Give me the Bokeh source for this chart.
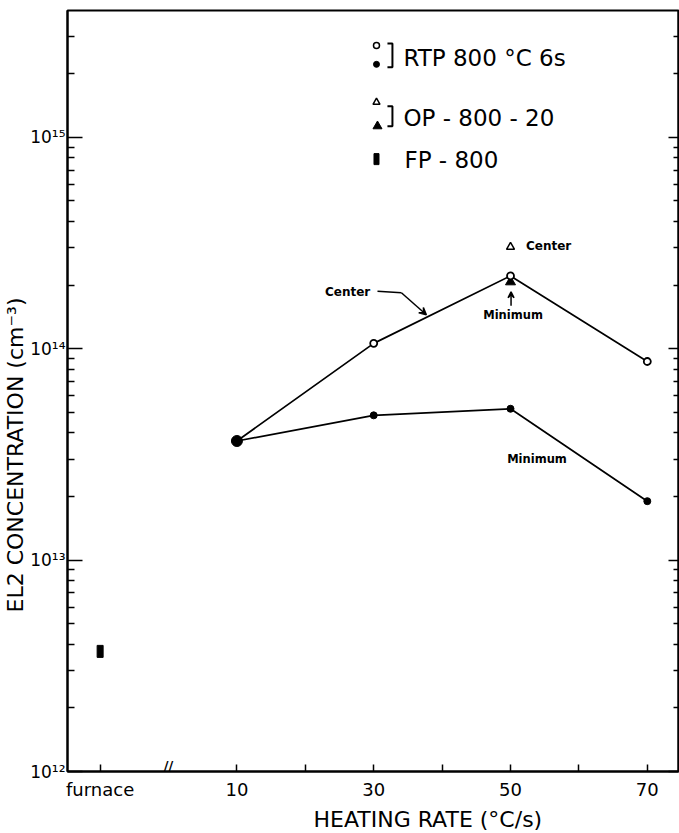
import math

from bokeh.plotting import figure
from bokeh.models import Range1d, FixedTicker, LogAxis, Label, Arrow, VeeHead, Title
from bokeh.embed import file_html
from bokeh.resources import INLINE

# ---- data -------------------------------------------------------------
rates = [10, 30, 50, 70]                       # heating rate, degC/s
rtp_center = [3.66e13, 1.06e14, 2.21e14, 8.7e13]
rtp_minimum = [3.66e13, 4.84e13, 5.2e13, 1.9e13]

op_rate = [50]
op_center = [3.03e14]
op_minimum = [2.07e14]

fp_pos = [-10]                                  # "furnace" slot on the rate axis
fp_value = [3.7e12]

x_ticks = [-10, 10, 20, 30, 40, 50, 60, 70]
x_tick_labels = {-10: "furnace", 10: "10", 20: "", 30: "30", 40: "", 50: "50", 60: "", 70: "70"}
y_decades = [1e12, 1e13, 1e14, 1e15]
y_tick_labels = {1e12: "10¹²", 1e13: "10¹³", 1e14: "10¹⁴", 1e15: "10¹⁵"}

# ---- layout -----------------------------------------------------------
FONT = "DejaVu Sans"
W, H = 679, 833
LEFT, RIGHT, TOP, BOTTOM = 65, 678, 10, 773      # frame edges in canvas pixels
X0, X1 = -14.77, 74.56
YLOG0, YLOG1 = 12.0, 15.6


def dx(px):
    """canvas pixel column -> x data value (for decorations)"""
    return X0 + (px - LEFT) * (X1 - X0) / (RIGHT - LEFT)


def dy(py):
    """canvas pixel row -> y data value on the log axis (for decorations)"""
    return 10 ** (YLOG1 - (py - TOP) * (YLOG1 - YLOG0) / (BOTTOM - TOP))


p = figure(width=W, height=H, y_axis_type="log",
           x_range=Range1d(X0, X1), y_range=Range1d(10 ** YLOG0, 10 ** YLOG1),
           output_backend="svg", toolbar_location=None,
           min_border_left=LEFT, min_border_right=W - RIGHT,
           min_border_top=TOP, min_border_bottom=H - BOTTOM)
p.background_fill_color = "white"
p.border_fill_color = "white"
p.xgrid.visible = False
p.ygrid.visible = False
p.outline_line_color = "black"
p.outline_line_width = 2

minor = [m * 10 ** e for e in range(12, 16) for m in range(2, 10) if m * 10 ** e <= 10 ** YLOG1]

# bottom axis
xa = p.xaxis[0]
xa.ticker = FixedTicker(ticks=x_ticks)
xa.major_label_overrides = x_tick_labels
xa.major_tick_in = 7
xa.major_tick_out = 0
xa.minor_tick_line_color = None
xa.axis_line_width = 2
xa.major_tick_line_width = 1.5
xa.major_label_text_font = FONT
xa.major_label_text_font_size = "18px"
xa.major_label_text_color = "black"
xa.major_label_standoff = 7

# left axis
ya = p.yaxis[0]
ya.ticker = FixedTicker(ticks=y_decades, minor_ticks=minor)
ya.major_label_overrides = y_tick_labels
ya.major_tick_in = 15
ya.major_tick_out = 0
ya.minor_tick_in = 7
ya.minor_tick_out = 0
ya.axis_line_width = 2
ya.major_tick_line_width = 1.5
ya.minor_tick_line_width = 1.5
ya.major_label_text_font = FONT
ya.major_label_text_font_size = "17px"
ya.major_label_text_color = "black"
ya.major_label_standoff = 2

# right axis: ticks only
ra = LogAxis(ticker=FixedTicker(ticks=y_decades, minor_ticks=minor),
             major_tick_in=10, major_tick_out=0, minor_tick_in=5, minor_tick_out=0,
             major_tick_line_width=1.5, minor_tick_line_width=1.5,
             axis_line_width=2, major_label_text_font_size="2px",
             major_label_text_color=None, major_label_standoff=0)
p.add_layout(ra, "right")

# axis titles sit in the side panels, shifted along the axis
p.add_layout(Title(text="HEATING RATE (°C/s)", align="left", offset=246, standoff=4,
                   text_font=FONT, text_font_size="22px", text_font_style="normal",
                   text_color="black"), "below")
p.add_layout(Title(text="EL2 CONCENTRATION (cm⁻³)", align="left", offset=159, standoff=0,
                   text_font=FONT, text_font_size="22px", text_font_style="normal",
                   text_color="black"), "left")

# ---- marks ------------------------------------------------------------
p.line(rates, rtp_center, line_color="black", line_width=1.7)
p.line(rates, rtp_minimum, line_color="black", line_width=1.7)

p.scatter(op_rate, op_minimum, marker="triangle", size=10, fill_color="black", line_color="black")
p.scatter(op_rate, op_center, marker="triangle", size=8, fill_color="white",
          line_color="black", line_width=1.5)

p.scatter(rates, rtp_minimum, marker="circle", size=7, fill_color="black", line_color="black")
p.scatter(rates, rtp_center, marker="circle", size=7, fill_color="white",
          line_color="black", line_width=1.8)
p.scatter(rates[:1], rtp_center[:1], marker="circle", size=11, fill_color="black",
          line_color="black")

p.rect(fp_pos, fp_value, width=6, height=12, width_units="screen", height_units="screen",
       fill_color="black", line_color="black")

# axis break on the rate axis
p.add_layout(Label(x=0, y=dy(775), text="//", text_align="center", text_baseline="bottom",
                   text_font=FONT, text_font_size="13px", text_font_style="bold",
                   text_color="black"))

# ---- key --------------------------------------------------------------
def bracket(px, top, bottom):
    p.line([dx(px - 5), dx(px), dx(px), dx(px - 5)], [dy(top), dy(top), dy(bottom), dy(bottom)],
           line_color="black", line_width=2)


def key_text(px, py, text):
    p.add_layout(Label(x=dx(px), y=dy(py), text=text, text_align="left", text_baseline="middle",
                       text_font=FONT, text_font_size="23px", text_color="black"))


p.scatter([dx(375)], [dy(45)], marker="circle", size=6, fill_color="white", line_color="black", line_width=1.5)
p.scatter([dx(375)], [dy(64)], marker="circle", size=6, fill_color="black", line_color="black")
bracket(391, 43, 67)
key_text(402, 57.5, "RTP 800 °C 6s")

p.scatter([dx(375)], [dy(102)], marker="triangle", size=7, fill_color="white", line_color="black", line_width=1.5)
p.scatter([dx(376)], [dy(126)], marker="triangle", size=9, fill_color="black", line_color="black")
bracket(391, 106, 126)
key_text(402, 118, "OP - 800 - 20")

p.rect([dx(375)], [dy(159)], width=5, height=11, width_units="screen", height_units="screen",
       fill_color="black", line_color="black")
key_text(403, 160, "FP - 800")

# ---- annotations ------------------------------------------------------
def note(px, py, text, align="left", size="12px"):
    p.add_layout(Label(x=dx(px), y=dy(py), text=text, text_align=align, text_baseline="middle",
                       text_font=FONT, text_font_size=size, text_font_style="bold",
                       text_color="black"))


note(525, 246, "Center")
note(512, 315, "Minimum", align="center", size="11.5px")
note(536, 460, "Minimum", align="center", size="11.5px")
note(346, 292, "Center", align="center")

p.add_layout(Arrow(end=VeeHead(size=6, line_color="black", line_width=1.5),
                   x_start=dx(510), y_start=dy(306), x_end=dx(510), y_end=dy(292),
                   line_color="black", line_width=1.5))
p.line([dx(376), dx(400)], [dy(291.5), dy(293)], line_color="black", line_width=1.5)
p.add_layout(Arrow(end=VeeHead(size=7, line_color="black", line_width=1.5),
                   x_start=dx(400), y_start=dy(293), x_end=dx(425), y_end=dy(315),
                   line_color="black", line_width=1.5))

open("out.html", "w").write(file_html(p, INLINE))
